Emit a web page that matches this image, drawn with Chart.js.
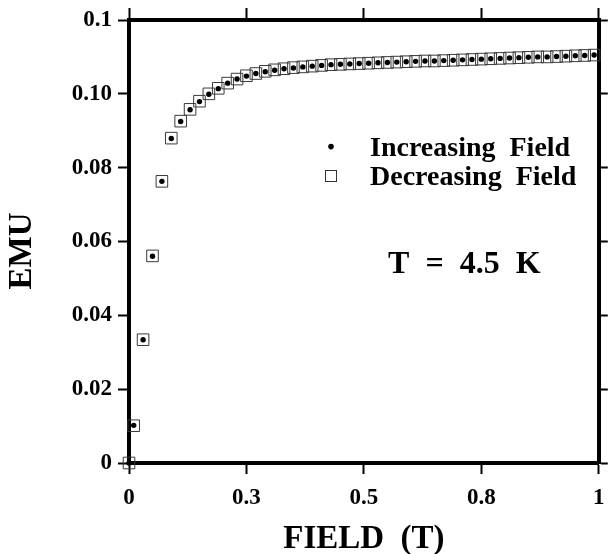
<!DOCTYPE html>
<html><head><meta charset="utf-8">
<script src="https://cdn.jsdelivr.net/npm/chart.js@4.4.0/dist/chart.umd.min.js"></script>
<style>html,body{margin:0;padding:0;background:#fff;} #wrap{width:608px;height:554px;}</style>
</head><body><div id="wrap"><canvas id="c" width="608" height="554"></canvas></div>
<script>
// ---- data ----
const field = [0, 0.01, 0.03, 0.05, 0.07, 0.09, 0.11, 0.13, 0.15, 0.17, 0.19,
  0.21, 0.23, 0.25, 0.27, 0.29, 0.31, 0.33, 0.35, 0.37, 0.39,
  0.41, 0.43, 0.45, 0.47, 0.49, 0.51, 0.53, 0.55, 0.57, 0.59,
  0.61, 0.63, 0.65, 0.67, 0.69, 0.71, 0.73, 0.75, 0.77, 0.79,
  0.81, 0.83, 0.85, 0.87, 0.89, 0.91, 0.93, 0.95, 0.97, 0.99];
const increasingEmu = [0, 0.0102, 0.0334, 0.0560, 0.0763, 0.0879, 0.0925, 0.0957, 0.0979, 0.0999, 0.1014,
  0.1029, 0.1040, 0.1048, 0.1055, 0.1060, 0.1064, 0.1068, 0.1070, 0.1073, 0.1075,
  0.1077, 0.1079, 0.1080, 0.1081, 0.1082, 0.1083, 0.1084, 0.1085, 0.1086, 0.1087,
  0.1088, 0.1089, 0.1089, 0.1090, 0.1091, 0.1092, 0.1093, 0.1094, 0.1095, 0.1096,
  0.1097, 0.1098, 0.1099, 0.1100, 0.1100, 0.1101, 0.1102, 0.1103, 0.1104, 0.1105];
const decreasingEmu = [0, 0.0101, 0.0334, 0.0561, 0.0763, 0.0880, 0.0926, 0.0958, 0.0980, 0.1000, 0.1015,
  0.1029, 0.1040, 0.1049, 0.1055, 0.1061, 0.1065, 0.1068, 0.1071, 0.1073, 0.1075,
  0.1077, 0.1079, 0.1080, 0.1081, 0.1082, 0.1083, 0.1084, 0.1085, 0.1086, 0.1087,
  0.1088, 0.1089, 0.1089, 0.1090, 0.1091, 0.1092, 0.1093, 0.1094, 0.1095, 0.1096,
  0.1097, 0.1098, 0.1099, 0.1100, 0.1100, 0.1101, 0.1102, 0.1103, 0.1104, 0.1105];
const xTickValues = [0, 0.25, 0.5, 0.75, 1];
const xTickLabels = ['0', '0.3', '0.5', '0.8', '1'];
const yTickValues = [0, 0.02, 0.04, 0.06, 0.08, 0.10, 0.12];
const yTickLabels = ['0', '0.02', '0.04', '0.06', '0.08', '0.10', '0.1'];
const seriesNames = ['Increasing  Field', 'Decreasing  Field'];
const annotationText = 'T  =  4.5  K';
const xTitle = 'FIELD  (T)';
const yTitle = 'EMU';

// ---- styling / layout ----
const FAMILY = "'Liberation Serif', 'Times New Roman', serif";
const tickFont = { family: FAMILY, size: 23, weight: 'bold' };
const gridOpts = (len) => ({ drawOnChartArea: false, drawTicks: true, tickLength: len, tickWidth: 2, tickColor: '#000' });
const borderOpts = { display: true, width: 4, color: '#000' };

function xAxis(position, showLabels, size, tickLen) {
  return {
    type: 'linear', position, min: 0, max: 1,
    afterBuildTicks: s => { s.ticks = xTickValues.map(v => ({ value: v })); },
    afterFit: s => { s.height = size; s.paddingLeft = 0; s.paddingRight = 0; },
    ticks: { display: showLabels, font: tickFont, color: '#000', padding: 10, maxRotation: 0,
             callback: (v, i) => xTickLabels[i] },
    grid: gridOpts(tickLen), border: borderOpts
  };
}
function yAxis(position, showLabels, size, tickLen) {
  return {
    type: 'linear', position, min: 0, max: 0.12,
    afterBuildTicks: s => { s.ticks = yTickValues.map(v => ({ value: v })); },
    afterFit: s => { s.width = size; s.paddingTop = 0; s.paddingBottom = 0; },
    ticks: { display: showLabels, font: tickFont, color: '#000', padding: 6,
             callback: (v, i) => yTickLabels[i] },
    grid: gridOpts(tickLen), border: borderOpts
  };
}

const scales = {
  x: xAxis('bottom', true, 91, 11),
  x2: xAxis('top', false, 20, 12),
  y: yAxis('left', true, 129, 11),
  y2: yAxis('right', false, 9, 9)
};
scales.x.title = { display: true, text: xTitle, color: '#000',
  font: { family: FAMILY, size: 33, weight: 'bold', lineHeight: 0.9 }, padding: { top: 0, bottom: 0 } };

const annot = {
  markerX: 0.43, textX: 0.513, row1Y: 0.0857, row2Y: 0.0777,
  tX: 0.5515, tY: 0.0514
};

const annotPlugin = {
  id: 'annot',
  afterDraw(chart) {
    const ctx = chart.ctx, sx = chart.scales.x, sy = chart.scales.y;
    ctx.save();
    ctx.fillStyle = '#000';
    // legend
    const mx = sx.getPixelForValue(annot.markerX);
    const r1 = sy.getPixelForValue(annot.row1Y), r2 = sy.getPixelForValue(annot.row2Y);
    ctx.beginPath(); ctx.arc(mx, r1, 2.8, 0, Math.PI * 2); ctx.fill();
    ctx.strokeStyle = '#333'; ctx.lineWidth = 1;
    ctx.strokeRect(Math.round(mx) - 5.5, Math.round(r2) - 5.5, 11, 11);
    ctx.font = 'bold 28px ' + FAMILY;
    ctx.textAlign = 'left'; ctx.textBaseline = 'alphabetic';
    const tx = sx.getPixelForValue(annot.textX);
    ctx.fillText(seriesNames[0], tx, r1 + 9.2);
    ctx.fillText(seriesNames[1], tx, r2 + 9.2);
    // T = 4.5 K
    ctx.font = 'bold 32px ' + FAMILY;
    ctx.fillText(annotationText, sx.getPixelForValue(annot.tX), sy.getPixelForValue(annot.tY));
    // y title
    ctx.font = 'bold 33px ' + FAMILY;
    ctx.translate(22, 251);
    ctx.rotate(-Math.PI / 2);
    ctx.textAlign = 'center'; ctx.textBaseline = 'middle';
    ctx.fillText(yTitle, 0, 0);
    ctx.restore();
  }
};

new Chart(document.getElementById('c'), {
  type: 'scatter',
  data: {
    datasets: [
      { label: seriesNames[0], data: field.map((x, i) => ({ x, y: increasingEmu[i] })),
        pointStyle: 'circle', pointRadius: 2.7, backgroundColor: '#000', borderColor: '#000', borderWidth: 0,
        clip: false, xAxisID: 'x', yAxisID: 'y' },
      { label: seriesNames[1], data: field.map((x, i) => ({ x, y: decreasingEmu[i] })),
        pointStyle: 'rect', pointRadius: 8.2, backgroundColor: 'rgba(0,0,0,0)', borderColor: '#3a3a3a', borderWidth: 1,
        clip: false, xAxisID: 'x', yAxisID: 'y' }
    ]
  },
  options: {
    responsive: false, animation: false, devicePixelRatio: 1,
    layout: { padding: 0 },
    plugins: { legend: { display: false }, tooltip: { enabled: false } },
    scales
  },
  plugins: [annotPlugin]
});
</script></body></html>
